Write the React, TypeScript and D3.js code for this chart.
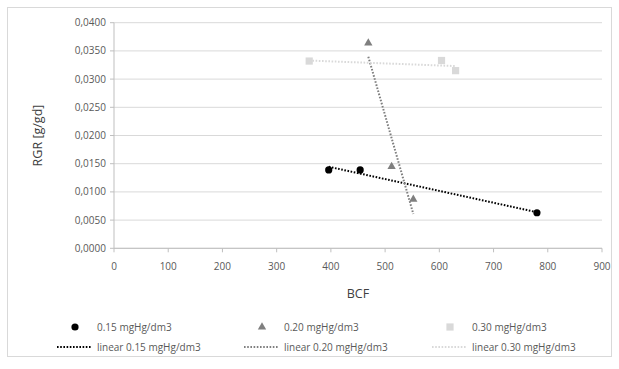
import React from "react";
import * as d3 from "d3";

const seriesNames = ["0.15 mgHg/dm3", "0.20 mgHg/dm3", "0.30 mgHg/dm3"];
const bcf015 = [396, 454, 780];
const rgr015 = [0.0139, 0.0139, 0.0063];
const bcf020 = [469, 512, 552];
const rgr020 = [0.0364, 0.0145, 0.0087];
const bcf030 = [360, 604, 630];
const rgr030 = [0.0332, 0.0333, 0.0315];
const xTicks = [0, 100, 200, 300, 400, 500, 600, 700, 800, 900];
const yTicks = [0, 0.005, 0.01, 0.015, 0.02, 0.025, 0.03, 0.035, 0.04];

const W = 619, H = 369;
const left = 114, right = 602, top = 22.7, bottom = 248.3;
const font = "'Open Sans', 'Liberation Sans', sans-serif";

function regression(xs: number[], ys: number[]) {
  const mx = d3.mean(xs)!, my = d3.mean(ys)!;
  let sxy = 0, sxx = 0;
  xs.forEach((x, i) => { sxy += (x - mx) * (ys[i] - my); sxx += (x - mx) ** 2; });
  const b = sxy / sxx;
  const a = my - b * mx;
  const x0 = d3.min(xs)!, x1 = d3.max(xs)!;
  return [[x0, a + b * x0], [x1, a + b * x1]];
}

export default function App() {
  const x = d3.scaleLinear().domain([0, 900]).range([left, right]);
  const y = d3.scaleLinear().domain([0, 0.04]).range([bottom, top]);
  const series = [
    { name: seriesNames[0], xs: bcf015, ys: rgr015, color: "#000000", marker: "circle" },
    { name: seriesNames[1], xs: bcf020, ys: rgr020, color: "#7f7f7f", marker: "triangle" },
    { name: seriesNames[2], xs: bcf030, ys: rgr030, color: "#d9d9d9", marker: "square" },
  ];
  const line = d3.line<number[]>().x(d => x(d[0])).y(d => y(d[1]));
  const fmt = (v: number) => v.toFixed(4).replace(".", ",");

  const marker = (m: string, cx: number, cy: number, color: string, key: any) => {
    if (m === "circle") return <circle key={key} cx={cx} cy={cy} r={3.6} fill={color} />;
    if (m === "triangle") return <path key={key} d={d3.symbol(d3.symbolTriangle, 30)()!} transform={`translate(${cx},${cy})`} fill={color} />;
    return <rect key={key} x={cx - 3.6} y={cy - 3.6} width={7.2} height={7.2} fill={color} />;
  };

  const legendX = [75, 262, 450];

  return (
    <svg width={W} height={H} style={{ position: "absolute", left: 0, top: 0 }}>
      <rect x={0} y={0} width={W} height={H} fill="#fff" />
      <rect x={7.5} y={7.5} width={604} height={349} fill="#fff" stroke="#d9d9d9" />
      {yTicks.map(t => (
        <g key={t}>
          <line x1={left} x2={right} y1={y(t)} y2={y(t)} stroke="#d9d9d9" />
          <line x1={left - 4} x2={left} y1={y(t)} y2={y(t)} stroke="#bfbfbf" />
          <text x={left - 8} y={y(t)} dy="0.35em" textAnchor="end" fontSize={10} fill="#595959" fontFamily={font}>{fmt(t)}</text>
        </g>
      ))}
      <line x1={left} x2={left} y1={top} y2={bottom} stroke="#bfbfbf" />
      <line x1={left} x2={right} y1={bottom} y2={bottom} stroke="#bfbfbf" />
      {xTicks.map(t => (
        <g key={t}>
          <line x1={x(t)} x2={x(t)} y1={bottom} y2={bottom + 4} stroke="#bfbfbf" />
          <text x={x(t)} y={266} dy="0.35em" textAnchor="middle" fontSize={10} fill="#595959" fontFamily={font}>{t}</text>
        </g>
      ))}
      <text x={358} y={294} dy="0.35em" textAnchor="middle" fontSize={12.5} fill="#404040" fontFamily={font}>BCF</text>
      <text transform={`translate(38,${(top + bottom) / 2}) rotate(-90)`} dy="0.35em" textAnchor="middle" fontSize={12.5} fill="#404040" fontFamily={font}>RGR [g/gd]</text>

      {series.map((s, i) => (
        <path key={"l" + i} d={line(regression(s.xs, s.ys))!} fill="none" stroke={s.color} strokeWidth={2} strokeDasharray="1.6 1.6" />
      ))}
      {series.map((s, i) => s.xs.map((v, j) => marker(s.marker, x(v), y(s.ys[j]), s.color, `m${i}-${j}`)))}

      {series.map((s, i) => (
        <g key={"lg" + i}>
          {marker(s.marker, legendX[i], 327, s.color, "lm" + i)}
          <text x={legendX[i] + 22} y={327} dy="0.35em" fontSize={10} fill="#595959" fontFamily={font}>{s.name}</text>
          <line x1={legendX[i] - 18} x2={legendX[i] + 17} y1={347} y2={347} stroke={s.color} strokeWidth={2} strokeDasharray="1.6 1.6" />
          <text x={legendX[i] + 22} y={347} dy="0.35em" fontSize={10} fill="#595959" fontFamily={font}>{"linear " + s.name}</text>
        </g>
      ))}
    </svg>
  );
}
